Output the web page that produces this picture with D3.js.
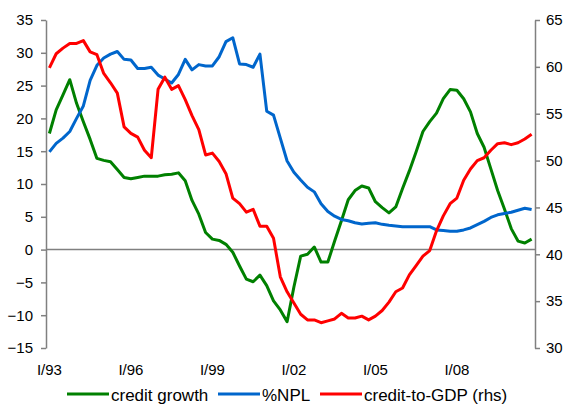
<!DOCTYPE html>
<html>
<head>
<meta charset="utf-8">
<script src="https://cdn.jsdelivr.net/npm/d3@7"></script>
<style>
  body { margin: 0; background: #fff; }
  svg { display: block; font-family: Arial, "Liberation Sans", sans-serif; }
  .axis path, .axis line { stroke: #808080; }
  .axis text { fill: #000; font-size: 15px; }
</style>
</head>
<body>
<div id="chart"></div>
<script>
// quarterly data, I/93 .. IV/10
const years = ['93','94','95','96','97','98','99','00','01','02','03','04','05','06','07','08','09','10'];
const romans = ['I', 'II', 'III', 'IV'];
const quarters = years.flatMap(y => romans.map(r => `${r}/${y}`));
const tickLabels = ['I/93', 'I/96', 'I/99', 'I/02', 'I/05', 'I/08'];

const leftTicks = [-15, -10, -5, 0, 5, 10, 15, 20, 25, 30, 35];
const rightTicks = [30, 35, 40, 45, 50, 55, 60, 65];

const creditGrowth = [
  17.7, 21.3, 23.6, 25.9, 22.3, 19.5, 16.8, 13.9, 13.6, 13.4, 12.2, 11.0,
  10.8, 11.0, 11.2, 11.2, 11.2, 11.4, 11.5, 11.7, 10.5, 7.5, 5.4, 2.6,
  1.6, 1.4, 0.8, -0.4, -2.5, -4.5, -4.9, -3.9, -5.5, -7.8, -9.2, -11.0,
  -5.7, -1.0, -0.7, 0.4, -1.9, -1.9, 1.3, 4.4, 7.6, 9.0, 9.7, 9.4,
  7.3, 6.4, 5.6, 6.5, 9.3, 12.0, 14.9, 18.0, 19.5, 20.8, 23.0, 24.4,
  24.3, 23.0, 21.0, 17.7, 15.6, 12.3, 9.0, 6.2, 3.2, 1.3, 1.0, 1.6
];
const npl = [
  14.9, 16.2, 17.0, 18.0, 20.0, 21.9, 25.8, 28.1, 29.2, 29.8, 30.2, 29.0,
  28.9, 27.6, 27.6, 27.8, 26.6, 26.0, 25.4, 26.7, 29.0, 27.4, 28.2, 28.0,
  28.0, 29.4, 31.7, 32.3, 28.3, 28.2, 27.8, 29.8, 21.1, 20.5, 17.0, 13.5,
  11.8, 10.6, 9.5, 8.8, 7.0, 5.8, 5.1, 4.6, 4.4, 4.1, 3.9, 4.0,
  4.1, 3.85, 3.7, 3.6, 3.5, 3.5, 3.5, 3.5, 3.5, 3.0, 2.9, 2.8,
  2.8, 3.0, 3.3, 3.8, 4.3, 4.9, 5.3, 5.5, 5.7, 6.0, 6.3, 6.1
];
const creditToGdp = [
  59.9, 61.4, 62.0, 62.5, 62.5, 62.8, 61.6, 61.3, 59.3, 58.3, 57.2, 53.6,
  52.9, 52.5, 51.1, 50.3, 57.6, 58.9, 57.6, 58.0, 56.5, 54.8, 53.3, 50.6,
  50.8, 49.9, 48.6, 46.0, 45.4, 44.5, 44.8, 43.0, 43.0, 41.7, 37.6, 36.0,
  34.8, 33.6, 33.0, 33.0, 32.7, 32.9, 33.1, 33.7, 33.2, 33.2, 33.4, 33.0,
  33.4, 34.0, 34.9, 36.0, 36.4, 37.8, 38.8, 39.8, 40.4, 42.5, 44.1, 45.4,
  46.0, 47.9, 49.1, 50.0, 50.3, 51.1, 51.8, 51.9, 51.7, 51.9, 52.3, 52.8
];

const series = [
  { name: 'credit growth', values: creditGrowth, color: '#008000', axis: 'left' },
  { name: '%NPL', values: npl, color: '#0066cc', axis: 'left' },
  { name: 'credit-to-GDP (rhs)', values: creditToGdp, color: '#ff0000', axis: 'right' },
];

////////////////////////////////////////////////////////////////////////////////
// Setup
const width = 563;
const height = 405;
const plot = { left: 46, right: 535, top: 20, bottom: 348 };

const svg = d3.select('#chart').append('svg')
  .attr('width', width)
  .attr('height', height);

const x = d3.scaleBand()
  .domain(quarters)
  .range([plot.left, plot.right]);
const xc = q => x(q) + x.bandwidth() / 2;

const yLeft = d3.scaleLinear()
  .domain([-15, 35])
  .range([plot.bottom, plot.top]);
const yRight = d3.scaleLinear()
  .domain([30, 65])
  .range([plot.bottom, plot.top]);

// zero line
svg.append('line')
  .attr('x1', plot.left).attr('x2', plot.right)
  .attr('y1', yLeft(0)).attr('y2', yLeft(0))
  .attr('stroke', '#808080')
  .attr('stroke-width', 1.5);

svg.append('g')
  .attr('class', 'axis')
  .attr('transform', `translate(${plot.left},0)`)
  .call(d3.axisLeft(yLeft).tickValues(leftTicks).tickSize(5).tickSizeOuter(0).tickPadding(8))
  .call(g => g.selectAll('path, line').attr('stroke-width', 1.5));

svg.append('g')
  .attr('class', 'axis')
  .attr('transform', `translate(${plot.right},0)`)
  .call(d3.axisRight(yRight).tickValues(rightTicks).tickSize(5).tickSizeOuter(0).tickPadding(6))
  .call(g => g.selectAll('path, line').attr('stroke-width', 1.5));

// category labels, no axis line
svg.append('g')
  .attr('class', 'axis')
  .attr('transform', `translate(0,${plot.bottom})`)
  .call(d3.axisBottom(x).tickValues(tickLabels).tickSize(0).tickPadding(16))
  .call(g => g.select('.domain').remove());

////////////////////////////////////////////////////////////////////////////////
// Lines
series.forEach(s => {
  const y = s.axis === 'left' ? yLeft : yRight;
  const line = d3.line()
    .x((d, i) => xc(quarters[i]))
    .y(d => y(d));
  svg.append('path')
    .datum(s.values)
    .attr('fill', 'none')
    .attr('stroke', s.color)
    .attr('stroke-width', 3)
    .attr('stroke-linejoin', 'round')
    .attr('d', line);
});

////////////////////////////////////////////////////////////////////////////////
// Legend
const legendX = [67, 218, 320];
const legend = svg.append('g').attr('class', 'legend');
series.forEach((s, i) => {
  const g = legend.append('g').attr('transform', `translate(${legendX[i]},394)`);
  g.append('line')
    .attr('x1', 0).attr('x2', 42)
    .attr('stroke', s.color)
    .attr('stroke-width', 3);
  g.append('text')
    .attr('x', 44)
    .attr('y', 7)
    .attr('font-size', '17px')
    .attr('fill', '#000')
    .text(s.name);
});
</script>
</body>
</html>
